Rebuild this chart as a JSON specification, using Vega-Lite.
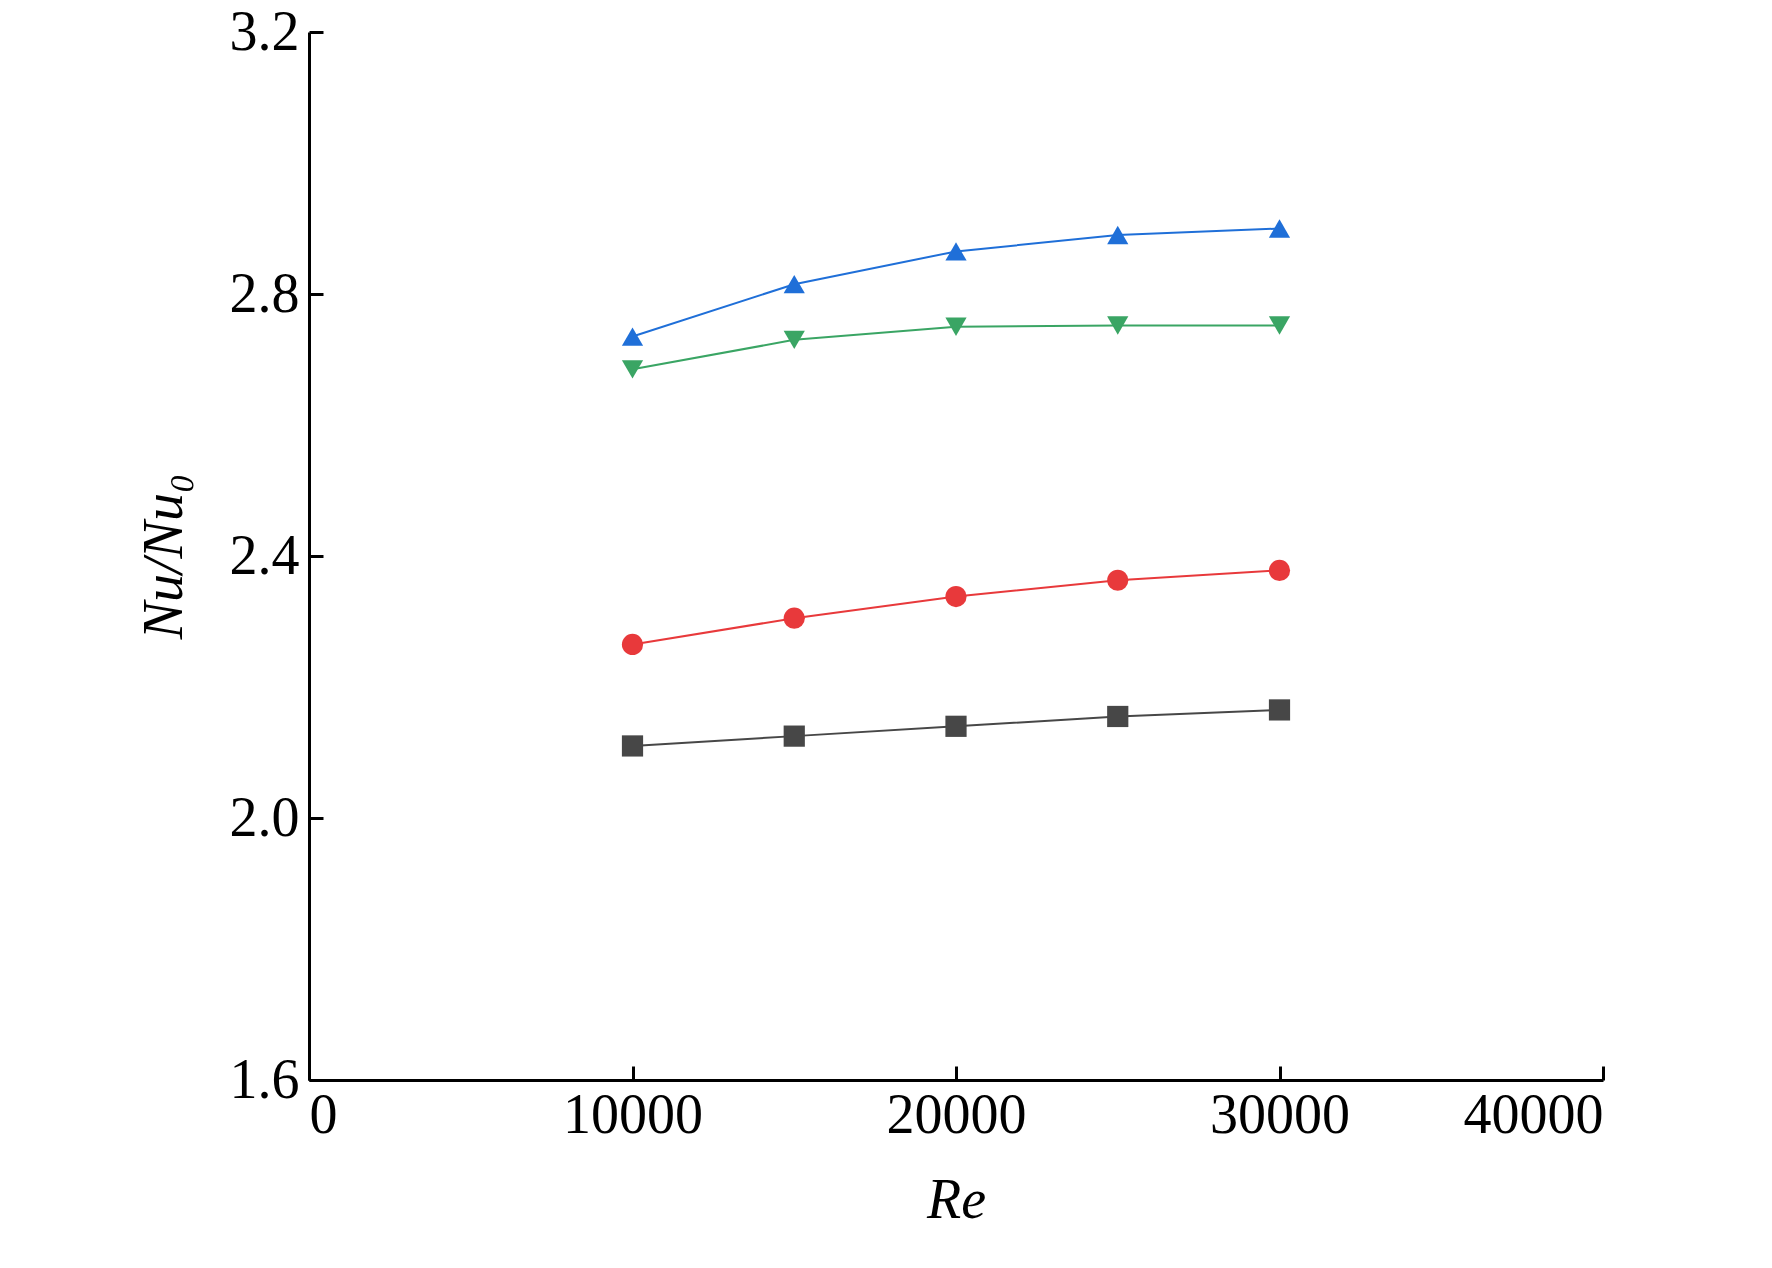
{
  "$schema": "https://vega.github.io/schema/vega-lite/v6.json",
  "width": 1294,
  "height": 1048,
  "autosize": {"type": "none"},
  "padding": {"left": 309, "top": 32, "right": 169, "bottom": 188},
  "background": "white",
  "config": {
    "font": "Liberation Serif",
    "view": {"stroke": null},
    "axis": {"grid": false, "domainColor": "black", "domainWidth": 3, "tickColor": "black", "tickWidth": 3, "tickSize": -14, "labelFont": "Liberation Serif", "titleFont": "Liberation Serif", "labelFontSize": 56, "labelColor": "black", "titleFontSize": 56, "titleColor": "black", "titleFontWeight": "normal", "titleFontStyle": "italic"},
    "legend": {"labelFont": "Liberation Serif"}
  },
  "data": {"values": [
    {"Re": 10000, "v": 2.11, "s": "Transverse rib"},
    {"Re": 15000, "v": 2.125, "s": "Transverse rib"},
    {"Re": 20000, "v": 2.14, "s": "Transverse rib"},
    {"Re": 25000, "v": 2.155, "s": "Transverse rib"},
    {"Re": 30000, "v": 2.165, "s": "Transverse rib"},
    {"Re": 10000, "v": 2.265, "s": "60° inclined rib"},
    {"Re": 15000, "v": 2.305, "s": "60° inclined rib"},
    {"Re": 20000, "v": 2.338, "s": "60° inclined rib"},
    {"Re": 25000, "v": 2.363, "s": "60° inclined rib"},
    {"Re": 30000, "v": 2.378, "s": "60° inclined rib"},
    {"Re": 10000, "v": 2.685, "s": "V-shaped rib"},
    {"Re": 15000, "v": 2.73, "s": "V-shaped rib"},
    {"Re": 20000, "v": 2.75, "s": "V-shaped rib"},
    {"Re": 25000, "v": 2.752, "s": "V-shaped rib"},
    {"Re": 30000, "v": 2.752, "s": "V-shaped rib"},
    {"Re": 10000, "v": 2.735, "s": "Discrete V-shaped rib"},
    {"Re": 15000, "v": 2.815, "s": "Discrete V-shaped rib"},
    {"Re": 20000, "v": 2.865, "s": "Discrete V-shaped rib"},
    {"Re": 25000, "v": 2.89, "s": "Discrete V-shaped rib"},
    {"Re": 30000, "v": 2.9, "s": "Discrete V-shaped rib"}
  ]},
  "encoding": {
    "x": {"field": "Re", "type": "quantitative", "scale": {"domain": [0, 40000]}, "axis": {"values": [0, 10000, 20000, 30000, 40000], "format": "d", "title": "Re", "labelPadding": 22, "titlePadding": 30}},
    "y": {"field": "v", "type": "quantitative", "scale": {"domain": [1.6, 3.2]}, "axis": {"values": [1.6, 2.0, 2.4, 2.8, 3.2], "format": ".1f", "title": "Nu/Nu₀", "labelPadding": 24, "titlePadding": 36}}
  },
  "layer": [
    {"mark": {"type": "line", "strokeWidth": 2},
     "encoding": {"color": {"field": "s", "type": "nominal", "scale": {"domain": ["Transverse rib", "60° inclined rib", "V-shaped rib", "Discrete V-shaped rib"], "range": ["#474747", "#e8393b", "#3aa564", "#1f6fd8"]}, "legend": null}}},
    {"mark": {"type": "point", "filled": true, "size": 450, "opacity": 1},
     "encoding": {
       "shape": {"field": "s", "type": "nominal", "scale": {"domain": ["Transverse rib", "60° inclined rib", "V-shaped rib", "Discrete V-shaped rib"], "range": ["square", "circle", "triangle-down", "triangle-up"]},
         "legend": {"title": null, "orient": "none", "legendX": 90, "legendY": -10, "columns": 2, "direction": "horizontal", "labelFontSize": 54, "labelColor": "black", "labelLimit": 800, "symbolSize": 450, "symbolOpacity": 1, "columnPadding": 40, "rowPadding": 40, "labelOffset": 90, "symbolStrokeWidth": 0}},
       "color": {"field": "s", "type": "nominal", "scale": {"domain": ["Transverse rib", "60° inclined rib", "V-shaped rib", "Discrete V-shaped rib"], "range": ["#474747", "#e8393b", "#3aa564", "#1f6fd8"]},
         "legend": {"title": null, "orient": "none", "legendX": 90, "legendY": -10, "columns": 2, "direction": "horizontal", "labelFontSize": 54, "labelColor": "black", "labelLimit": 800, "symbolSize": 450, "symbolOpacity": 1, "columnPadding": 40, "rowPadding": 40, "labelOffset": 90, "symbolStrokeWidth": 0}}
     }}
  ]
}
